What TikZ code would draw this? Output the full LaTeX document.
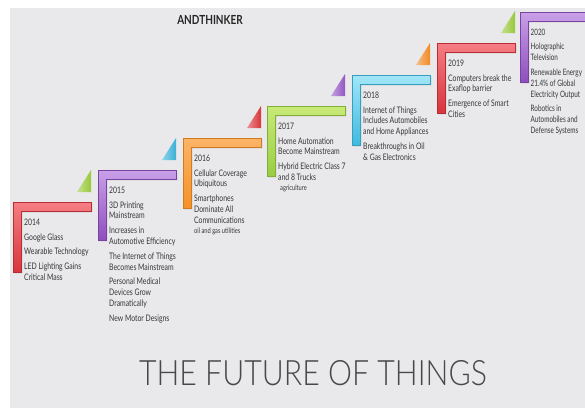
\documentclass[tikz,border=0pt]{standalone}
\usepackage{fontspec}
\setmainfont{Lato}
\newfontfamily\bodyfont[FakeStretch=0.76]{Lato}
\newfontfamily\narrowfont[FakeStretch=0.72]{Lato}
\newfontfamily\titlefont[FakeStretch=0.865]{Lato Light}
\newfontfamily\brandfont[FakeStretch=0.8]{Lato}
\definecolor{bggray}{HTML}{E9E9EB}
\definecolor{textgray}{HTML}{363636}
\definecolor{titlegray}{HTML}{484848}
\definecolor{redL}{HTML}{F57E84}\definecolor{redD}{HTML}{D8343D}
\definecolor{purL}{HTML}{C9A0E8}\definecolor{purD}{HTML}{8E4FBE}
\definecolor{oraL}{HTML}{FCB468}\definecolor{oraD}{HTML}{F59126}
\definecolor{grnL}{HTML}{C8EA78}\definecolor{grnD}{HTML}{9ACD42}
\definecolor{cyaL}{HTML}{A2E6F7}\definecolor{cyaD}{HTML}{3FBADF}
\definecolor{triG}{HTML}{98C83A}
\definecolor{triC}{HTML}{38B0D6}
\definecolor{triR}{HTML}{D8353A}
\definecolor{triP}{HTML}{9256C2}
\definecolor{triO}{HTML}{F08A26}
% left, top, light colour, dark colour
\newcommand\Lbar[4]{%
  \fill[black,opacity=0.08] ({#1+1.5},{#2+1.5}) -- ++(78,0) -- ++(0,9) -- ++(-70,0) -- ++(0,61) -- ++(-8,0) -- cycle;
  \shade[top color=#3,bottom color=#4,draw=#4!85!black,line width=0.3pt]
    (#1,#2) -- ++(78,0) -- ++(0,9) -- ++(-70,0) -- ++(0,61) -- ++(-8,0) -- cycle;}
% left, top, colour
\newcommand\Ltri[3]{%
  \shade[left color=#3!55!white,right color=#3]
    ({#1+64},{#2-10}) -- ({#1+78},{#2-10}) -- ({#1+78},{#2-32}) -- cycle;}
\begin{document}
\begin{tikzpicture}[x=1pt,y=-1pt,
  txt/.style={anchor=north west,inner sep=0pt,align=left,text=textgray,
    font=\bodyfont\fontsize{9}{10.8}\selectfont}]
\useasboundingbox (0,0) rectangle (585,408);
\clip (0,0) rectangle (585,408);
\fill[white] (0,0) rectangle (585,408);
\fill[bggray] (10,8) rectangle (585,408);

% triangles
\Ltri{13}{202}{triG}
\Ltri{98}{170}{triC}
\Ltri{183}{138}{triR}
\Ltri{267}{106}{triP}
\Ltri{352}{75}{triO}
\Ltri{437}{43}{triG}

% bars
\Lbar{13}{202}{redL}{redD}
\Lbar{98}{170}{purL}{purD}
\Lbar{183}{138}{oraL}{oraD}
\Lbar{267}{106}{grnL}{grnD}
\Lbar{352}{75}{cyaL}{cyaD}
\Lbar{437}{43}{redL}{redD}
\Lbar{520}{12}{purL}{purD}

\newcommand\smallnote{\fontsize{7.5}{9}\selectfont}

\node[txt] (t2014) at (24,218.5) {2014\\[4pt]Google Glass\\[4pt]Wearable Technology\\[4pt]LED Lighting Gains\\Critical Mass};
\node[txt] (t2015) at (109,186.5) {2015\\[4pt]3D Printing\\Mainstream\\[4pt]Increases in\\Automotive Efficiency\\[4pt]The Internet of Things\\Becomes Mainstream\\[4pt]Personal Medical\\Devices Grow\\Dramatically\\[4pt]New Motor Designs};
\node[txt] (t2016) at (194,154.5) {2016\\[4pt]Cellular Coverage\\Ubiquitous\\[4pt]Smartphones\\Dominate All\\Communications\\[-1pt]{\smallnote oil and gas utilities}};
\node[txt] (t2017) at (278,122.5) {2017\\[4pt]Home Automation\\Become Mainstream\\[4pt]Hybrid Electric Class 7\\and 8 Trucks\\[-1pt]{\smallnote\hspace{2pt}agriculture}};
\node[txt] (t2018) at (363,91.5) {2018\\[4pt]Internet of Things\\Includes Automobiles\\and Home Appliances\\[4pt]Breakthroughs in Oil\\\& Gas Electronics};
\node[txt] (t2019) at (448,59.5) {2019\\[4pt]Computers break the\\Exaflop barrier\\[4pt]Emergence of Smart\\Cities};
\node[txt,font=\narrowfont\fontsize{8.8}{10.8}\selectfont] (t2020) at (530.5,28.5) {2020\\[4pt]Holographic\\Television\\[4pt]Renewable Energy\\21.4\% of Global\\Electricity Output\\[4pt]Robotics in\\Automobiles and\\Defense Systems};

\node[font=\brandfont\bfseries\fontsize{12.5}{12.5}\selectfont,text=black!85,inner sep=0pt] (brand) at (210,20) {ANDTHINKER};
\node[font=\titlefont\fontsize{35}{35}\selectfont,text=titlegray,inner sep=0pt] (title) at (313,373) {THE FUTURE OF THINGS};
\end{tikzpicture}
\end{document}
